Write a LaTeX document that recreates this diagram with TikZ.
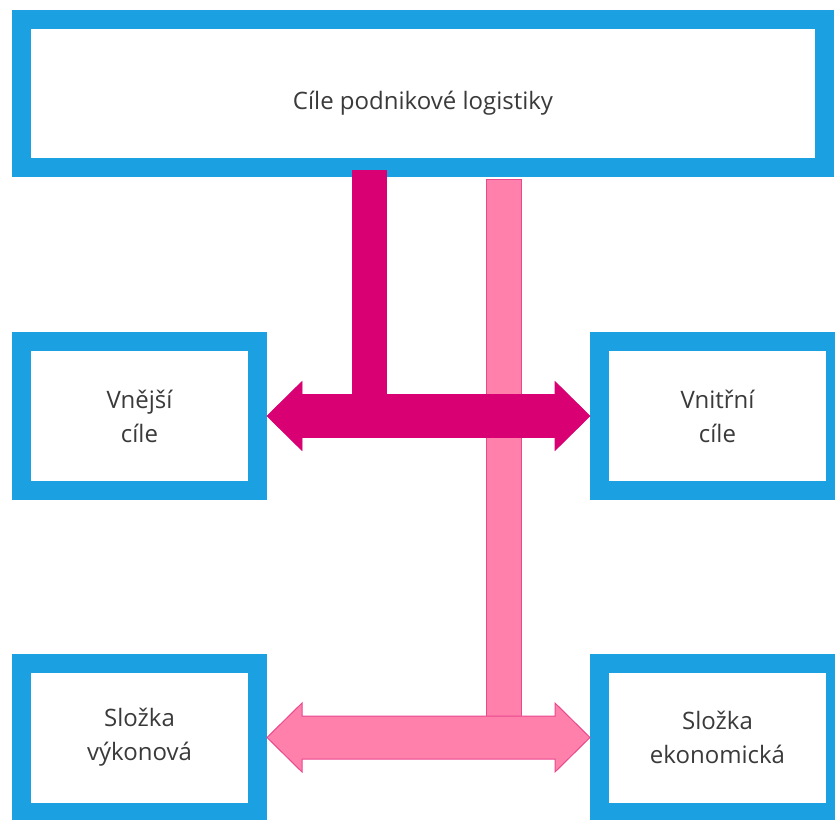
\documentclass[tikz,border=0pt]{standalone}
\usepackage{fontspec}
\setmainfont{Open Sans}
\usetikzlibrary{calc}

\newcommand{\fatarrow}[3]{%
  \draw[#1] let \p1=(#2.east), \p2=(#3.west) in
    (\x1,\y1) -- (\x1+35pt,\y1+34.5pt) -- (\x1+35pt,\y1+21.5pt)
    -- (\x2-35pt,\y1+21.5pt) -- (\x2-35pt,\y1+34.5pt) -- (\x2,\y1)
    -- (\x2-35pt,\y1-34.5pt) -- (\x2-35pt,\y1-21.5pt)
    -- (\x1+35pt,\y1-21.5pt) -- (\x1+35pt,\y1-34.5pt) -- cycle;}

\begin{document}
\begin{tikzpicture}[x=1pt,y=-1pt,
  goalbox/.style={draw=boxblue,line width=19pt,fill=white,text=textgray,
    align=center,font=\fontsize{24}{34}\selectfont},
  smallbox/.style={goalbox,minimum width=236pt,minimum height=149pt},
  darkarrow/.style={fill=darkmag,draw=darkmag,line width=0.6pt},
  lightarrow/.style={fill=lightpink,draw=pinkedge,line width=1pt}]
\definecolor{boxblue}{HTML}{1BA1E2}
\definecolor{darkmag}{HTML}{D80073}
\definecolor{lightpink}{HTML}{FF80AB}
\definecolor{pinkedge}{HTML}{E8498E}
\definecolor{textgray}{HTML}{3A3A3A}
\useasboundingbox (0,0) rectangle (835,819);
\clip (0,0) rectangle (835,819);
  % boxes
  \node[goalbox,minimum width=803pt,minimum height=148pt] (cile) at (423,93.5)
    {\raisebox{-10pt}[\height][\depth]{Cíle podnikové logistiky}};
  \foreach \nm/\px/\py/\txt in {vnejsi/139.5/416/{Vnější\\cíle},
      vnitrni/717.5/416/{Vnitřní\\cíle},
      vykon/139.5/737.5/{Složka\\výkonová},
      ekon/717.5/737.5/{Složka\\ekonomická}}
  {  \node[smallbox] (\nm) at (\px,\py) {\txt};}
  % light bar and arrow
  \draw[lightarrow] ([xshift=63pt,yshift=-2pt]cile.south) rectangle ++(35pt,-540pt);
  \fatarrow{lightarrow}{vykon}{ekon}
  % dark bar and arrow
  \fill[darkmag] ([xshift=-71pt,yshift=7pt]cile.south) rectangle ++(35pt,-232pt);
  \fatarrow{darkarrow}{vnejsi}{vnitrni}
\end{tikzpicture}
\end{document}
